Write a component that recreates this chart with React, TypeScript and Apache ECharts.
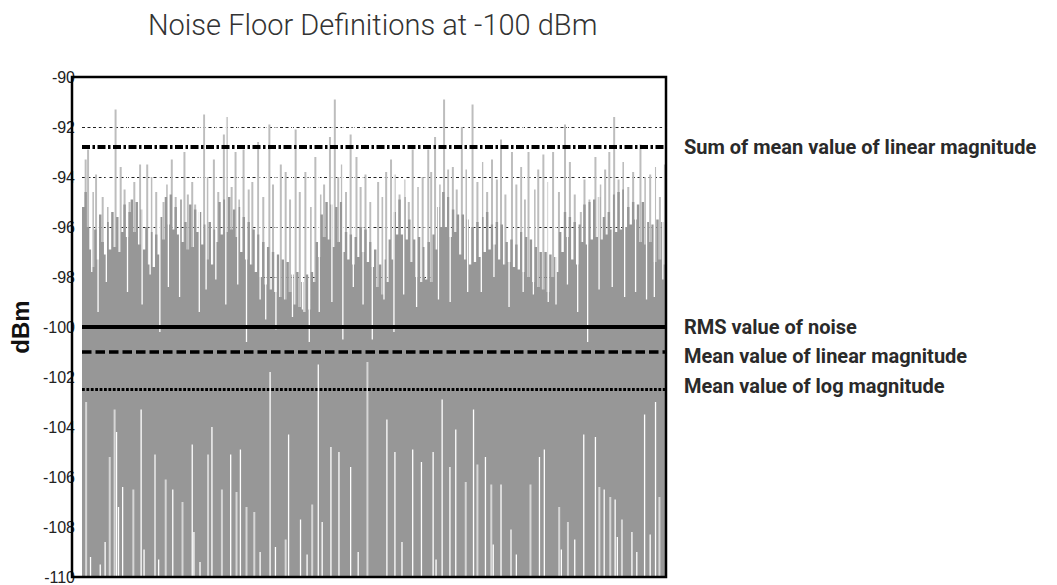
import React, { useEffect, useRef } from "react";
import * as echarts from "echarts";

// ---- data (dBm) ----
const xCount = 240;
const yMin = -110;
const yMax = -90;
const yStep = 2;

// dark-gray noise body, one value per column
const body = [
  -95.2, -94.6, -96.0, -96.9, -97.6, -96.1, -97.3, -95.5, -96.6, -97.1,
  -95.8, -96.9, -95.4, -96.8, -95.6, -97.0, -96.2, -95.1, -96.4, -95.4,
  -94.9, -96.2, -95.0, -96.7, -95.3, -96.9, -96.0, -97.5, -96.2, -97.6,
  -96.3, -97.1, -95.6, -96.5, -94.8, -95.9, -94.7, -96.1, -95.2, -96.3,
  -94.9, -96.6, -95.8, -96.9, -95.1, -96.8, -95.3, -96.2, -95.4, -96.7,
  -95.9, -97.3, -95.8, -97.5, -96.1, -96.6, -95.0, -96.3, -94.9, -96.2,
  -94.8, -96.1, -95.3, -96.4, -95.2, -97.0, -95.6, -97.3, -95.8, -97.5,
  -96.1, -97.8, -96.3, -98.0, -96.6, -98.3, -96.8, -98.5, -97.0, -98.6,
  -97.1, -98.8, -97.3, -98.9, -97.4, -98.6, -97.9, -99.1, -97.8, -99.2,
  -98.2, -99.4, -97.9, -99.3, -97.8, -98.2, -96.6, -97.2, -95.5, -96.4,
  -95.0, -96.5, -95.1, -96.8, -95.2, -96.6, -95.0, -97.0, -96.2, -97.3,
  -96.3, -97.5, -96.4, -97.2, -96.0, -97.0, -96.1, -97.4, -96.6, -97.6,
  -96.9, -98.4, -97.5, -98.7, -97.3, -98.2, -96.5, -97.3, -95.4, -96.3,
  -94.9, -96.3, -94.8, -96.5, -95.7, -97.4, -96.5, -98.0, -96.4, -98.2,
  -96.8, -98.1, -96.6, -98.2, -96.3, -96.9, -95.2, -96.0, -94.6, -96.0,
  -94.8, -96.4, -95.3, -96.2, -95.5, -97.1, -95.5, -97.3, -95.7, -97.5,
  -96.0, -97.4, -95.8, -97.2, -95.6, -97.0, -95.4, -96.9, -95.9, -96.7,
  -95.8, -97.3, -95.9, -97.5, -96.6, -97.4, -96.5, -97.6, -96.7, -97.7,
  -96.2, -97.8, -96.4, -98.0, -96.5, -98.2, -96.8, -98.4, -97.0, -98.5,
  -97.0, -98.6, -97.1, -98.0, -97.2, -97.8, -96.2, -97.0, -95.4, -96.4,
  -95.6, -97.3, -95.8, -97.5, -95.9, -96.6, -95.1, -96.7, -95.0, -96.5,
  -94.9, -96.4, -94.8, -96.5, -95.6, -96.3, -95.4, -96.1, -94.7, -96.2,
  -94.6, -96.1, -94.5, -96.0, -95.2, -95.9, -95.0, -95.7, -95.1, -96.6,
  -95.0, -96.7, -95.8, -96.6, -95.9, -97.4, -95.7, -97.3, -95.8, -97.5,
];

// light-gray narrow peaks [column, dBm]
const peaks = [
  [1, -93.3], [2, -92.9], [4, -94.6], [5.3, -93.9], [8, -94.8], [10, -95.2], [13.3, -91.3], [15.4, -93.6],
  [17, -94.5], [19, -95.0], [21, -94.2], [23.4, -93.5], [26.3, -93.5], [28, -94.0], [30, -94.6], [33, -95.0],
  [34.5, -94.3], [36.4, -93.3], [38, -94.8], [41.6, -93.0], [43, -94.7], [44.8, -94.2], [46, -95.1], [49.7, -91.5],
  [51, -94.0], [53.7, -93.3], [55.5, -94.6], [57.8, -92.3], [59, -91.6], [61, -94.4], [62.6, -93.0], [64, -94.9],
  [65.9, -92.9], [68, -94.5], [69.5, -94.2], [71.9, -92.6], [74, -94.8], [76.5, -91.9], [78, -94.3], [81.2, -93.5],
  [83.2, -93.8], [85, -94.9], [87.3, -92.1], [89, -94.6], [91.3, -93.8], [93.5, -95.2], [95.4, -93.2], [97.5, -94.7],
  [99, -94.3], [101.4, -92.4], [103.4, -90.9], [104.8, -94.0], [106.3, -93.5], [108, -94.6], [109.9, -92.3], [112.3, -93.2],
  [114, -94.4], [116, -93.9], [118, -95.0], [121.2, -94.2], [123, -94.8], [124.5, -93.8], [126.5, -93.3], [128, -93.9],
  [130, -94.7], [132, -94.1], [133.8, -95.0], [135.4, -92.9], [137.5, -94.4], [139.5, -94.0], [141.8, -92.9], [143, -93.8],
  [144.6, -92.4], [146.5, -94.3], [148.3, -90.9], [150, -93.7], [151.9, -93.6], [153.5, -94.5], [155.6, -92.0], [157.5, -93.7],
  [160, -91.1], [162, -94.2], [164, -93.4], [166, -94.6], [168, -93.3], [170, -94.1], [171.7, -92.5], [173.5, -94.7],
  [176.2, -93.0], [178, -94.3], [180, -93.6], [181.5, -94.9], [183, -93.0], [185.5, -94.5], [187, -93.7], [189.1, -93.1],
  [191, -94.2], [193.1, -93.0], [195.5, -94.6], [198, -91.9], [200, -93.4], [202, -94.7], [204.5, -95.4], [206, -94.1],
  [208, -94.9], [210.5, -93.2], [212.5, -94.3], [214.5, -93.7], [216.2, -93.0], [218.2, -91.6], [220, -94.1], [222, -93.4],
  [224, -94.4], [226, -93.8], [229, -92.7], [231, -94.0], [233, -93.9], [235, -93.6], [237, -94.8], [239, -93.5],
];

// narrow dips of the upper trace [column, dBm]
const dips = [
  [3.5, -97.8], [6.1, -99.4], [9.5, -98.2], [18.2, -98.6], [24.2, -99.1], [27.5, -97.9], [31.5, -100.2], [35, -98.4],
  [39.6, -98.8], [47.7, -99.4], [50.5, -98.5], [54.5, -98.1], [58.6, -99.1], [63.5, -98.3], [67.1, -100.6], [72.7, -98.9],
  [75, -99.7], [79.2, -100.1], [86, -99.6], [90.1, -99.3], [92.9, -100.6], [97, -99.4], [102.2, -99.0], [106.7, -100.5],
  [111, -98.4], [115, -99.1], [118.8, -100.5], [123.6, -98.9], [127.7, -100.2], [131.7, -98.7], [137, -99.2], [140.5, -98.0],
  [146, -98.9], [150.8, -99.0], [158, -98.6], [163.6, -98.6], [168.8, -98.0], [175, -99.2], [180.8, -98.6], [185, -98.7],
  [191.1, -99.0], [194.3, -99.1], [199, -98.3], [203.2, -99.4], [207.3, -100.6], [212, -98.5], [217.4, -98.4], [222.5, -98.8],
  [227, -98.6], [231.5, -98.9], [234.7, -98.8], [238.2, -98.1],
];

// lower trace rising above the floor [column, dBm]
const floorWhite = [
  [13.7, -104.2], [14.5, -107.2], [16.2, -106.4], [23.8, -103.3], [36.8, -106.5], [44.8, -104.7], [52.9, -104.0], [60.6, -105.1],
  [64.6, -104.9], [72.7, -109.0], [76.8, -101.8], [84.4, -104.3], [89.3, -107.7], [96.6, -101.5], [98.2, -107.8], [101.8, -104.8],
  [105.1, -105.0], [109.9, -105.6], [124.8, -103.7], [128.1, -105.0], [135.4, -104.9], [139.0, -105.4], [143.8, -105.0], [147.5, -102.9],
  [150.7, -105.6], [153.1, -104.1], [160.4, -103.3], [165.3, -105.2], [171.7, -106.3], [187.5, -105.2], [189.5, -104.9], [202.0, -108.5],
  [205.7, -104.3], [210.5, -104.4], [214.1, -106.5], [218.6, -106.9], [225.5, -108.2], [230.7, -103.5], [235.2, -103.0], [239.6, -106.4],
  [3, -109.2], [7, -109.5], [9, -108.6], [25, -108.9], [31, -109.3], [45.5, -108.2], [48, -109.4], [79, -108.8],
  [92, -109.1], [113, -109.0], [131, -108.6], [145, -109.3], [168.5, -108.7], [178, -109.1], [196.5, -108.9], [219.5, -108.4],
  [227.5, -109.0], [233, -108.3],
];
const floorLight = [
  [1.2, -103.0], [10.9, -105.2], [12.9, -103.3], [20.6, -106.5], [29.5, -105.1], [33.9, -106.1], [40.8, -107.0], [51.3, -105.1],
  [57.0, -106.5], [63.0, -106.6], [67.1, -107.2], [70.3, -107.4], [83.2, -108.5], [94.1, -107.1], [116.8, -101.4], [157.2, -106.2],
  [162.0, -105.5], [167.7, -106.3], [175.8, -108.1], [183.8, -106.3], [195.6, -107.2], [199.2, -107.8], [212.1, -106.4], [216.6, -106.8],
  [221.4, -107.7], [236.8, -106.8],
];

// reference levels
const refNames = [
  "Sum of mean value of linear magnitude",
  "RMS value of noise",
  "Mean value of linear magnitude",
  "Mean value of log magnitude",
];
const refValues = [-92.8, -100, -101, -102.5];

const titleText = "Noise Floor Definitions at -100 dBm";
const yName = "dBm";

// ---- styles ----
const GRAY = "#979797";
const LIGHT = "#bdbdbd";
const refStyles = [
  { color: "#000", width: 4, type: [8, 2.5, 2.5, 2.5] },
  { color: "#000", width: 4, type: "solid" },
  { color: "#000", width: 3.5, type: [9.5, 4] },
  { color: "#000", width: 2.8, type: [2.8, 1.6] },
];
const labelY = [147, 327, 356, 386];

function lineSeries(data: number[][], color: string, width: number, fromTop: boolean, z: number) {
  return {
    type: "custom",
    silent: true,
    clip: true,
    z,
    encode: { x: 0, y: 1 },
    data,
    renderItem: (_p: any, api: any) => {
      const x = api.value(0);
      const v = api.value(1);
      const base = fromTop ? yMax : yMin;
      const a = api.coord([x + 0.5, v]);
      const b = api.coord([x + 0.5, base]);
      return {
        type: "rect",
        shape: { x: a[0] - width / 2, y: Math.min(a[1], b[1]), width, height: Math.abs(b[1] - a[1]) },
        style: { fill: color },
      };
    },
  };
}

export default function App() {
  const ref = useRef<HTMLDivElement>(null);
  useEffect(() => {
    document.body.style.margin = "0";
    const chart = echarts.init(ref.current!, null, { renderer: "svg" });
    const gridL = 72, gridT = 77, gridW = 594, gridH = 500;
    const bodyData = body.map((v, i) => [i, v]);
    bodyData.push([xCount, body[body.length - 1]]);
    chart.setOption({
      animation: false,
      backgroundColor: "#fff",
      grid: { left: gridL, top: gridT, width: gridW, height: gridH },
      xAxis: { type: "value", min: 0, max: xCount, show: false },
      yAxis: {
        type: "value",
        min: yMin,
        max: yMax,
        interval: yStep,
        name: yName,
        nameLocation: "middle",
        nameRotate: 90,
        nameGap: 50,
        nameTextStyle: { fontFamily: "Liberation Sans", fontWeight: "bold", fontSize: 24, color: "#111" },
        axisLine: { show: false },
        axisTick: { show: false },
        axisLabel: { fontFamily: "Liberation Sans", fontSize: 16, color: "#222", margin: 7 },
        splitLine: { show: true, lineStyle: { color: "#222", width: 1, type: [3, 2.5] } },
      },
      graphic: [
        {
          type: "text",
          left: 148,
          top: 10,
          style: { text: titleText, fontFamily: "Roboto", fontWeight: 300, fontSize: 29, fill: "#333" },
        },
        ...refNames.map((t, i) => ({
          type: "text",
          x: 684,
          y: labelY[i],
          style: { text: t, fontFamily: "Roboto", fontWeight: "bold", fontSize: 20, fill: "#2a2a2a", verticalAlign: "middle" },
        })),
        {
          type: "rect",
          z: 100,
          shape: { x: gridL, y: gridT, width: gridW, height: gridH },
          style: { fill: "none", stroke: "#000", lineWidth: 2.5 },
        },
      ],
      series: [
        lineSeries(peaks, LIGHT, 2, false, 2),
        {
          type: "line",
          data: bodyData,
          step: "end",
          symbol: "none",
          silent: true,
          z: 3,
          lineStyle: { width: 0, color: GRAY },
          areaStyle: { color: GRAY, opacity: 1, origin: "start" },
        },
        lineSeries(dips, "#ffffff", 1.3, true, 4),
        lineSeries(floorLight, "#d6d6d6", 2, false, 4),
        lineSeries(floorWhite, "#ffffff", 1.3, false, 5),
        {
          type: "line",
          data: [],
          symbol: "none",
          silent: true,
          z: 10,
          markLine: {
            silent: true,
            symbol: "none",
            animation: false,
            label: { show: false },
            data: refValues.map((v, i) => ({ yAxis: v, lineStyle: refStyles[i] })),
          },
        },
      ],
    });
    return () => chart.dispose();
  }, []);
  return <div ref={ref} style={{ position: "fixed", left: 0, top: 0, width: 1057, height: 585 }} />;
}
